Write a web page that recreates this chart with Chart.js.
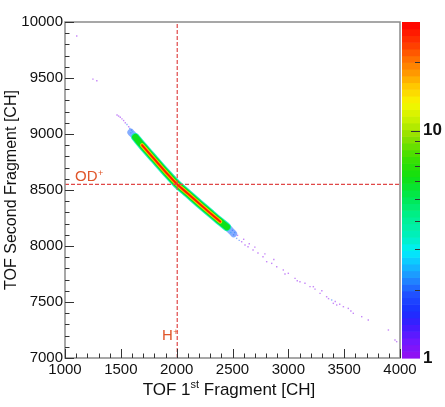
<!DOCTYPE html>
<html>
<head>
<meta charset="utf-8">
<script src="https://cdn.jsdelivr.net/npm/chart.js@4.4.1/dist/chart.umd.min.js"></script>
<style>
  html, body { margin: 0; padding: 0; background: #fff; }
  #wrap { position: relative; width: 445px; height: 407px; }
  #chart { position: absolute; left: 0; top: 0; }
  #zbar { position: absolute; left: 380px; top: 0; }
</style>
</head>
<body>
<div id="wrap">
  <canvas id="chart" width="445" height="407"></canvas>
  <canvas id="zbar" width="65" height="407"></canvas>
</div>
<script>
// axis ticks
const xTicks = [1000, 1500, 2000, 2500, 3000, 3500, 4000];
const yTicks = [7000, 7500, 8000, 8500, 9000, 9500, 10000];
const zTicks = [1, 10];
const zMax = 30;

// ridge of the dense band (TOF 1st, TOF 2nd)
const bandX = [1590, 1630, 1690, 1800, 1900, 2000, 2100, 2200, 2300, 2390, 2450, 2510];
const bandY = [9015, 8972, 8900, 8775, 8662, 8555, 8468, 8380, 8294, 8218, 8170, 8110];

// sparse hits off the band, with their counts
const hitX = [1105, 1250, 1285, 1466, 1480, 1495, 1510, 1525, 1540, 1555, 1570, 1580, 1595, 1605, 1590, 1615,
  2470, 2485, 2500, 2510, 2520, 2537, 2545, 2560, 2582, 2600, 2612, 2639, 2650, 2684, 2700, 2728, 2773, 2790,
  2806, 2851, 2870, 2896, 2955, 2970, 3000, 3060, 3080, 3104, 3149, 3194, 3224, 3239, 3284, 3300, 3343, 3360,
  3388, 3403, 3420, 3433, 3460, 3493, 3537, 3560, 3582, 3657, 3716, 3896, 3955, 3970];
const hitY = [9875, 9490, 9475, 9170, 9160, 9150, 9135, 9120, 9100, 9085, 9065, 9050, 9035, 9020, 9010, 8995,
  8170, 8120, 8140, 8100, 8120, 8068, 8095, 8050, 8038, 8060, 8009, 7994, 8020, 7964, 7990, 7937, 7904, 7930,
  7860, 7845, 7880, 7815, 7786, 7750, 7756, 7711, 7690, 7681, 7667, 7637, 7637, 7615, 7577, 7600, 7547, 7530,
  7518, 7488, 7505, 7473, 7480, 7458, 7443, 7420, 7399, 7369, 7339, 7250, 7161, 7146];
const hitN = [1, 1, 1, 1, 1, 1, 1, 1, 1, 2, 1, 2, 2, 3, 2, 3,
  3, 3, 2, 2, 2, 2, 1, 2, 1, 1, 1, 1, 1, 1, 1, 1, 1, 1,
  1, 1, 1, 1, 1, 1, 1, 1, 1, 1, 1, 1, 1, 1, 1, 1, 1, 1,
  2, 1, 1, 1, 1, 1, 1, 1, 1, 1, 1, 1, 1, 1];

// reference lines
const hPlusX = 2005;
const odPlusY = 8550;

const FONT = "'Liberation Sans', Arial, sans-serif";
Chart.defaults.font.family = FONT;
Chart.defaults.color = '#111';

// ROOT rainbow palette, bottom (violet) to top (red)
const paletteStops = [
  [0.00, [150, 16, 240]], [0.05, [112, 24, 255]], [0.10, [60, 28, 255]], [0.14, [24, 48, 255]],
  [0.19, [32, 80, 255]], [0.24, [32, 144, 255]], [0.28, [16, 192, 255]], [0.32, [0, 240, 250]],
  [0.36, [0, 240, 192]], [0.42, [0, 240, 144]], [0.48, [0, 232, 80]], [0.54, [16, 224, 16]],
  [0.60, [64, 224, 0]], [0.66, [144, 224, 0]], [0.71, [200, 240, 0]], [0.76, [248, 248, 0]],
  [0.81, [255, 200, 0]], [0.85, [255, 152, 0]], [0.89, [255, 112, 0]], [0.93, [255, 64, 0]],
  [0.98, [255, 16, 0]], [1.00, [255, 0, 0]]
];
const nColors = 50;

function paletteAt(f) {
  for (let i = 1; i < paletteStops.length; i++) {
    const [f1, c1] = paletteStops[i];
    const [f0, c0] = paletteStops[i - 1];
    if (f <= f1) {
      const t = (f - f0) / (f1 - f0);
      return c0.map((v, k) => Math.round(v + (c1[k] - v) * t));
    }
  }
  return paletteStops[paletteStops.length - 1][1];
}

function bandColor(k, alpha) {
  const c = paletteAt((k + 0.5) / nColors);
  return `rgba(${c[0]}, ${c[1]}, ${c[2]}, ${alpha})`;
}

function countColor(n, alpha = 1) {
  const f = Math.log(n) / Math.log(zMax);
  const k = Math.min(nColors - 1, Math.floor(f * nColors));
  return bandColor(k, alpha);
}

// layered strokes that make up the dense band
const bandLayers = [
  { count: 2, width: 7, from: 0, to: 11, alpha: 0.55 },
  { count: 3.5, width: 8.5, from: 1, to: 10, alpha: 0.85 },
  { count: 6, width: 6.5, from: 1, to: 10, alpha: 1 },
  { count: 12, width: 4, from: 2, to: 9, alpha: 1 },
  { count: 18, width: 3, from: 2, to: 9, alpha: 1 },
  { count: 28, width: 1.8, from: 2, to: 9, alpha: 1 }
];

const datasets = [];

datasets.push({
  label: 'hits',
  data: hitX.map((x, i) => ({ x, y: hitY[i] })),
  pointStyle: 'rect',
  pointRadius: 1,
  pointBorderWidth: 0,
  pointBackgroundColor: hitN.map(n => countColor(n, 0.5)),
  order: 20
});

bandLayers.forEach((layer, i) => {
  const pts = [];
  for (let j = layer.from; j <= layer.to; j++) pts.push({ x: bandX[j], y: bandY[j] });
  datasets.push({
    label: 'band' + i,
    data: pts,
    showLine: true,
    pointRadius: 0,
    borderColor: countColor(layer.count, layer.alpha),
    borderWidth: layer.width,
    borderCapStyle: 'round',
    borderJoinStyle: 'round',
    cubicInterpolationMode: 'monotone',
    order: 15 - i
  });
});

const refStyle = { showLine: true, pointRadius: 0, borderColor: '#e04848', borderWidth: 1.2, borderDash: [4, 2], order: 1 };
datasets.push(Object.assign({ label: 'H+', data: [{ x: hPlusX, y: yTicks[0] }, { x: hPlusX, y: yTicks[yTicks.length - 1] }] }, refStyle));
datasets.push(Object.assign({ label: 'OD+', data: [{ x: xTicks[0], y: odPlusY }, { x: xTicks[xTicks.length - 1], y: odPlusY }] }, refStyle));

// frame, inward ticks, labels with superscripts
const decor = {
  id: 'decor',
  afterDraw(chart) {
    const { ctx, chartArea: a, scales: { x, y } } = chart;
    ctx.save();
    ctx.strokeStyle = '#8a8a8a';
    ctx.lineWidth = 1.5;
    ctx.strokeRect(a.left, a.top, a.right - a.left, a.bottom - a.top);

    ctx.strokeStyle = '#333';
    ctx.lineWidth = 1;
    ctx.beginPath();
    for (let v = xTicks[0]; v <= xTicks[xTicks.length - 1]; v += 100) {
      const px = Math.round(x.getPixelForValue(v)) + 0.5;
      const len = v % 500 === 0 ? 9 : 4.5;
      ctx.moveTo(px, a.bottom);
      ctx.lineTo(px, a.bottom - len);
    }
    for (let v = yTicks[0]; v <= yTicks[yTicks.length - 1]; v += 100) {
      const py = Math.round(y.getPixelForValue(v)) + 0.5;
      const len = v % 500 === 0 ? 9 : 4.5;
      ctx.moveTo(a.left, py);
      ctx.lineTo(a.left + len, py);
    }
    ctx.stroke();

    // marker labels
    ctx.fillStyle = '#e0562a';
    ctx.textBaseline = 'alphabetic';
    ctx.textAlign = 'left';
    const tag = (txt, px, py) => {
      ctx.font = `15px ${FONT}`;
      ctx.fillText(txt, px, py);
      const w = ctx.measureText(txt).width;
      ctx.font = `9px ${FONT}`;
      ctx.fillText('+', px + w + 0.5, py - 5);
    };
    tag('H', x.getPixelForValue(1869), y.getPixelForValue(7161));
    tag('OD', x.getPixelForValue(1090), y.getPixelForValue(8580));

    // x title: TOF 1st Fragment [CH]
    ctx.fillStyle = '#111';
    const parts = [['TOF 1', 17, 0], ['st', 11, -7], [' Fragment [CH]', 17, 0]];
    let total = 0;
    parts.forEach(p => { ctx.font = `${p[1]}px ${FONT}`; total += ctx.measureText(p[0]).width; });
    let cx = 229 - total / 2;
    parts.forEach(p => {
      ctx.font = `${p[1]}px ${FONT}`;
      ctx.fillText(p[0], cx, 395 + p[2]);
      cx += ctx.measureText(p[0]).width;
    });
    ctx.restore();
  }
};

new Chart(document.getElementById('chart'), {
  type: 'scatter',
  data: { datasets },
  options: {
    responsive: false,
    animation: false,
    layout: { padding: { top: 22, right: 45, bottom: 0, left: 0 } },
    plugins: { legend: { display: false }, tooltip: { enabled: false } },
    scales: {
      x: {
        type: 'linear',
        min: xTicks[0],
        max: xTicks[xTicks.length - 1],
        afterBuildTicks: s => { s.ticks = xTicks.map(v => ({ value: v })); },
        afterFit: s => { s.height = 49; },
        grid: { display: false, drawTicks: false },
        border: { display: false },
        ticks: { font: { size: 15 }, color: '#111', padding: 3, maxRotation: 0, autoSkip: false, callback: v => String(v) }
      },
      y: {
        type: 'linear',
        min: yTicks[0],
        max: yTicks[yTicks.length - 1],
        afterBuildTicks: s => { s.ticks = yTicks.map(v => ({ value: v })); },
        afterFit: s => { s.width = 65; },
        grid: { display: false, drawTicks: false },
        border: { display: false },
        ticks: { font: { size: 15 }, color: '#111', padding: 2, autoSkip: false, callback: v => String(v) },
        title: { display: true, text: 'TOF Second Fragment [CH]', font: { size: 16 }, color: '#111', padding: { top: 2, bottom: 0 } }
      }
    }
  },
  plugins: [decor]
});

// colour scale
const zbarDraw = {
  id: 'zbarDraw',
  beforeDatasetsDraw(chart) {
    const { ctx, chartArea: a, scales: { y } } = chart;
    ctx.save();
    for (let k = 0; k < nColors; k++) {
      const p0 = y.getPixelForValue(Math.pow(zMax, k / nColors));
      const p1 = y.getPixelForValue(Math.pow(zMax, (k + 1) / nColors));
      ctx.fillStyle = bandColor(k, 1);
      ctx.fillRect(a.left, p1, a.right - a.left, p0 - p1 + 0.6);
    }
    ctx.strokeStyle = '#333';
    ctx.lineWidth = 1;
    ctx.beginPath();
    [2, 3, 4, 5, 6, 7, 8, 9, 10, 20].forEach(v => {
      const py = Math.round(y.getPixelForValue(v)) + 0.5;
      const len = v === 10 ? 9 : 5;
      ctx.moveTo(a.right, py);
      ctx.lineTo(a.right - len, py);
    });
    ctx.stroke();
    ctx.restore();
  }
};

new Chart(document.getElementById('zbar'), {
  type: 'bar',
  data: { labels: [''], datasets: [] },
  options: {
    responsive: false,
    animation: false,
    layout: { padding: { top: 22, right: 0, bottom: 49, left: 22 } },
    plugins: { legend: { display: false }, tooltip: { enabled: false } },
    scales: {
      x: { display: false },
      y: {
        type: 'logarithmic',
        position: 'right',
        min: 1,
        max: zMax,
        afterBuildTicks: s => { s.ticks = zTicks.map(v => ({ value: v })); },
        afterFit: s => { s.width = 25; },
        grid: { display: false, drawTicks: false },
        border: { display: false },
        ticks: { font: { size: 17, weight: 'bold' }, color: '#111', padding: 3, callback: v => String(v) }
      }
    }
  },
  plugins: [zbarDraw]
});
</script>
</body>
</html>
